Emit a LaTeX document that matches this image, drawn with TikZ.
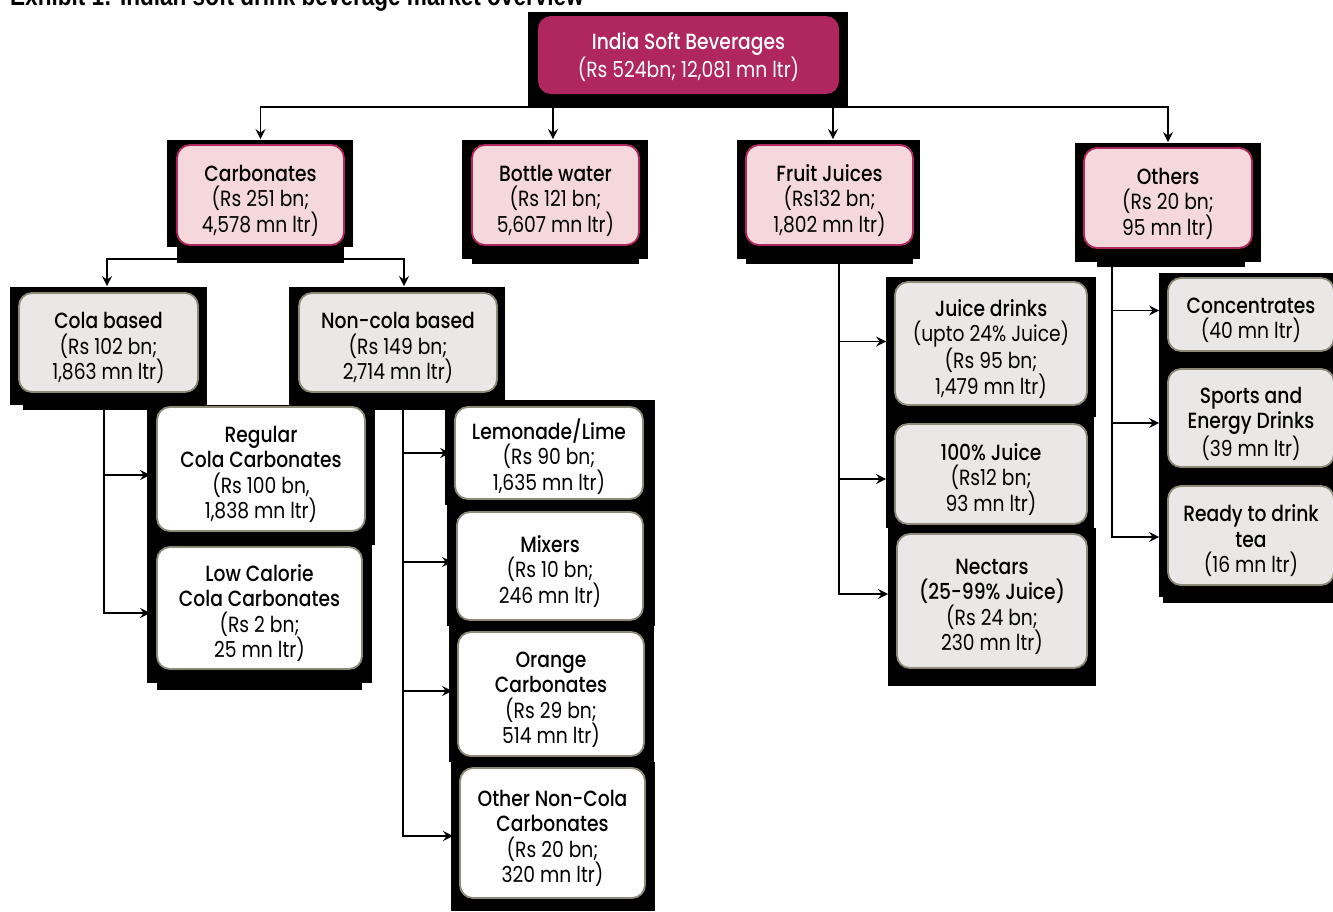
\documentclass[tikz,border=0pt]{standalone}
\usepackage{fontspec}
\setmainfont{Poppins}[FakeStretch=0.85]
\newfontfamily\hd{Poppins Medium}[FakeStretch=0.85]
\newfontfamily\ttl{Liberation Sans}[FakeStretch=0.82]
\usetikzlibrary{arrows.meta,backgrounds}
\definecolor{mag}{HTML}{B0275F}
\definecolor{pinkfill}{HTML}{F4D8DB}
\definecolor{greyfill}{HTML}{E9E8E6}
\definecolor{olive}{HTML}{8E8A78}
\tikzset{
  base/.style={rounded corners=13pt, line width=1.8pt, align=center, inner sep=0pt,
    font=\fontsize{22}{25.5}\selectfont},
  topbox/.style={base, fill=mag, draw=none, text=white},
  pinkbox/.style={base, fill=pinkfill, draw=mag},
  greybox/.style={base, fill=greyfill, draw=olive},
  whitebox/.style={base, fill=white, draw=olive},
  conn/.style={line width=1.4pt, -{Stealth[length=10pt,width=10pt,inset=3.5pt]}},
  blk/.style={fill=black}
}
\newcommand{\bx}[7]{% style, name, cx, cy, w, h, text
  \node[#1, minimum width=#5pt, minimum height=#6pt] (#2) at (#3,#4) {\rule{0pt}{27.5pt}#7};}
\begin{document}
\begin{tikzpicture}[x=1pt,y=-1pt]
\path[use as bounding box] (0,0) rectangle (1333,911);
% title (cut at the top edge)
\node[anchor=base west, inner sep=0pt, font=\ttl\bfseries\fontsize{27.5}{27.5}\selectfont] (title) at (10,5.5) {Exhibit 1: Indian soft drink beverage market overview};
% boxes
\node[topbox, minimum width=301pt, minimum height=78pt] (top) at (688.5,55) {\rule{0pt}{21pt}{\hd India Soft Beverages}\\(Rs 524bn; 12,081 mn ltr)};
\bx{pinkbox}{carb}{260.5}{195}{167}{100}{{\hd Carbonates}\\(Rs 251 bn;\\4,578 mn ltr)}
\bx{pinkbox}{bottle}{555.5}{195}{167}{100}{{\hd Bottle water}\\(Rs 121 bn;\\5,607 mn ltr)}
\bx{pinkbox}{fruit}{829.5}{195}{167}{100}{{\hd Fruit Juices}\\(Rs132 bn;\\1,802 mn ltr)}
\bx{pinkbox}{others}{1168}{198}{168}{100}{{\hd Others}\\(Rs 20 bn;\\95 mn ltr)}
\bx{greybox}{cola}{108.5}{342.5}{179}{99}{{\hd Cola based}\\(Rs 102 bn;\\1,863 mn ltr)}
\bx{greybox}{ncola}{398}{342.5}{198}{99}{{\hd Non-cola based}\\(Rs 149 bn;\\2,714 mn ltr)}
\bx{whitebox}{reg}{261}{469}{208}{124}{{\hd Regular}\\{\hd Cola Carbonates}\\(Rs 100 bn,\\1,838 mn ltr)}
\bx{whitebox}{low}{259.5}{608}{205}{122}{{\hd Low Calorie}\\{\hd Cola Carbonates}\\(Rs 2 bn;\\25 mn ltr)}
\bx{whitebox}{lemon}{549}{453}{188}{92}{{\hd Lemonade/Lime}\\(Rs 90 bn;\\1,635 mn ltr)}
\bx{whitebox}{mix}{550}{566}{186}{108}{{\hd Mixers}\\(Rs 10 bn;\\246 mn ltr)}
\bx{whitebox}{orange}{551}{694}{186}{124}{{\hd Orange}\\{\hd Carbonates}\\(Rs 29 bn;\\514 mn ltr)}
\bx{whitebox}{other}{552.5}{833}{185}{130}{{\hd Other Non-Cola}\\{\hd Carbonates}\\(Rs 20 bn;\\320 mn ltr)}
\bx{greybox}{juice}{991}{343.5}{192}{123}{{\hd Juice drinks}\\(upto 24\% Juice)\\(Rs 95 bn;\\1,479 mn ltr)}
\bx{greybox}{hundred}{991}{474}{192}{100}{{\hd 100\% Juice}\\(Rs12 bn;\\93 mn ltr)}
\bx{greybox}{nectar}{992}{601}{190}{134}{{\hd Nectars}\\{\hd (25-99\% Juice)}\\(Rs 24 bn;\\230 mn ltr)}
\bx{greybox}{conc}{1251}{314.5}{166}{73}{{\hd Concentrates}\\(40 mn ltr)}
\bx{greybox}{sports}{1251}{418}{166}{98}{{\hd Sports and}\\{\hd Energy Drinks}\\(39 mn ltr)}
\bx{greybox}{ready}{1251}{535.5}{166}{99}{{\hd Ready to drink}\\{\hd tea}\\(16 mn ltr)}
\begin{scope}[on background layer]
  % black frames
  \fill[blk] (528,12) rectangle (848,108);
  \fill[blk] (167,140) rectangle (353,247); \fill[blk] (177,247) rectangle (344,263);
  \fill[blk] (462,140) rectangle (648,259); \fill[blk] (472,259) rectangle (639,264);
  \fill[blk] (737,140) rectangle (920,259); \fill[blk] (746,259) rectangle (913,264);
  \fill[blk] (1075,143) rectangle (1261,262); \fill[blk] (1097,262) rectangle (1245,267);
  \fill[blk] (10,287) rectangle (207,405); \fill[blk] (23,405) rectangle (200,410);
  \fill[blk] (289,287) rectangle (505,405); \fill[blk] (299,405) rectangle (497,410);
  \fill[blk] (147,405) rectangle (375,545); \fill[blk] (147,545) rectangle (372,683);
  \fill[blk] (157,683) rectangle (362,690);
  \fill[blk] (445,400) rectangle (655,505); \fill[blk] (447,505) rectangle (655,626);
  \fill[blk] (449,626) rectangle (654,762); \fill[blk] (451,762) rectangle (655,911);
  \fill[blk] (886,277) rectangle (1096,417); \fill[blk] (886,417) rectangle (1094,528);
  \fill[blk] (888,528) rectangle (1096,686);
  \fill[blk] (1159,273) rectangle (1333,597); \fill[blk] (1163,597) rectangle (1333,603);
  % connectors
  \draw[conn, shorten >=5pt] (top.south) -- ++(0,12) -| (carb.north);
  \draw[conn, shorten >=5pt] (top.south) -- ++(0,12) -| ([xshift=-2.5pt]bottle.north);
  \draw[conn, shorten >=5pt] (top.south) -- ++(0,12) -| ([xshift=3.5pt]fruit.north);
  \draw[conn, shorten >=5pt] (top.south) -- ++(0,12) -| (others.north);
  \draw[conn, shorten >=6pt] (carb.south) -- ++(0,13) -| ([xshift=-1.5pt]cola.north);
  \draw[conn, shorten >=6pt] (carb.south) -- ++(0,13) -| ([xshift=6pt]ncola.north);
  \draw[conn, shorten >=6pt] ([xshift=-4.5pt]cola.south) |- ([yshift=-6pt]reg.west);
  \draw[conn, shorten >=6pt] ([xshift=-4.5pt]cola.south) |- ([yshift=-5pt]low.west);
  \draw[conn, shorten >=4pt] ([xshift=5pt]ncola.south) |- (lemon.west);
  \draw[conn, shorten >=4pt] ([xshift=5pt]ncola.south) |- ([yshift=4pt]mix.west);
  \draw[conn, shorten >=5pt] ([xshift=5pt]ncola.south) |- ([yshift=3pt]orange.west);
  \draw[conn, shorten >=6pt] ([xshift=5pt]ncola.south) |- ([yshift=-3pt]other.west);
  \draw[conn, shorten >=8pt] ([xshift=9.5pt]fruit.south) |- ([yshift=2pt]juice.west);
  \draw[conn, shorten >=8pt] ([xshift=9.5pt]fruit.south) |- ([yshift=-5pt]hundred.west);
  \draw[conn, shorten >=8pt] ([xshift=9.5pt]fruit.south) |- ([yshift=7pt]nectar.west);
  \draw[conn, shorten >=8pt] ([xshift=-56pt]others.south) |- ([yshift=4pt]conc.west);
  \draw[conn, shorten >=8pt] ([xshift=-56pt]others.south) |- ([yshift=-5pt]sports.west);
  \draw[conn, shorten >=8pt] ([xshift=-56pt]others.south) |- ([yshift=-1.5pt]ready.west);
\end{scope}
\end{tikzpicture}
\end{document}
